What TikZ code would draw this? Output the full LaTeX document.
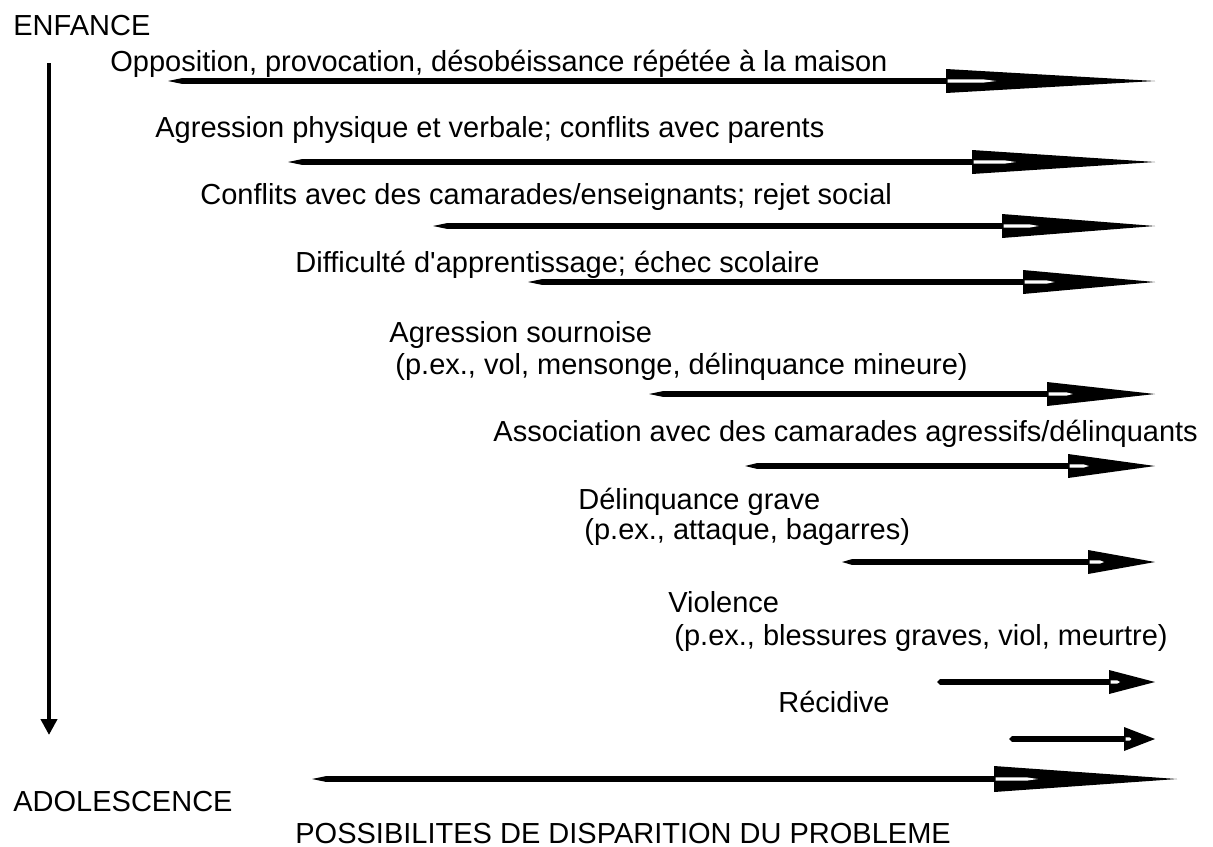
\documentclass[tikz,border=0pt]{standalone}
\usepackage{fontspec}
\setmainfont{Liberation Sans}[Ligatures=TeXOff]
\usetikzlibrary{calc,arrows.meta}
\newcommand{\fatarrow}[7]{%
  \coordinate (#1s) at (#3,#2);
  \coordinate (#1b) at (#4,#2);
  \coordinate (#1t) at (#5,#2);
  \fill (#1s) -- ($(#1s)+(#7,-2.9)$) -- ($(#1b)+(0,-2.9)$) -- ($(#1b)+(0,2.9)$) -- ($(#1s)+(#7,2.9)$) -- cycle;
  \fill ($(#1b)+(0,-#6)$) -- (#1t) -- ($(#1b)+(0,#6)$) -- cycle;
  \fill[white] ($(#1b)+(1.5,-1.6)$) -- ($(#1b)!0.18!(#1t)+(0,-1.6)$) -- ($(#1b)!0.24!(#1t)$) -- ($(#1b)!0.18!(#1t)+(0,1.6)$) -- ($(#1b)+(1.5,1.6)$) -- cycle;
}
\begin{document}
\begin{tikzpicture}[x=0.5pt,y=-0.5pt,
  lbl/.style={anchor=base west,inner sep=0pt,font=\fontsize{14.5pt}{16pt}\selectfont}]
\useasboundingbox (0,0) rectangle (1213,846);
% labels
\node[lbl] (enf) at (13,35) {ENFANCE};
\node[lbl] (t1) at (110,71) {Opposition, provocation, désobéissance répétée à la maison};
\node[lbl] (t2) at (155,137) {Agression physique et verbale; conflits avec parents};
\node[lbl] (t3) at (200,204) {Conflits avec des camarades/enseignants; rejet social};
\node[lbl] (t4) at (295,272) {Difficulté d'apprentissage; échec scolaire};
\node[lbl] (t5a) at (389,342) {Agression sournoise};
\node[lbl] (t5b) at (395,374) {(p.ex., vol, mensonge, délinquance mineure)};
\node[lbl] (t6) at (493,441) {Association avec des camarades agressifs/délinquants};
\node[lbl] (t7a) at (578,509) {Délinquance grave};
\node[lbl] (t7b) at (584,539) {(p.ex., attaque, bagarres)};
\node[lbl] (t8a) at (668,612) {Violence};
\node[lbl] (t8b) at (674,645) {(p.ex., blessures graves, viol, meurtre)};
\node[lbl] (t9) at (778,712) {Récidive};
\node[lbl] (ado) at (13,811) {ADOLESCENCE};
\node[lbl,text depth=0pt] (pos) at (295,843) {POSSIBILITES DE DISPARITION DU PROBLEME};
% time axis
\coordinate (vtop) at (49,63);
\coordinate (vbot) at (49,735);
\draw[line width=2pt,-{Triangle[length=8pt,width=8pt]}] (vtop) -- (vbot);
% arrows
\fatarrow{a1}{81}{168}{946}{1155}{12}{14}
\fatarrow{a2}{162}{288}{972}{1155}{12}{14}
\fatarrow{a3}{226}{433}{1002}{1155}{12}{14}
\fatarrow{a4}{282}{528}{1023}{1155}{12}{14}
\fatarrow{a5}{394}{649}{1047}{1155}{12}{14}
\fatarrow{a6}{466}{745}{1068}{1155}{12}{12}
\fatarrow{a7}{562}{842}{1088}{1155}{12}{10}
\fatarrow{a8}{682}{937}{1109}{1155}{12}{3}
\fatarrow{a9}{739}{1009}{1124}{1155}{12}{3}
\fatarrow{a10}{779}{312}{994}{1177}{13}{14}
\end{tikzpicture}
\end{document}
